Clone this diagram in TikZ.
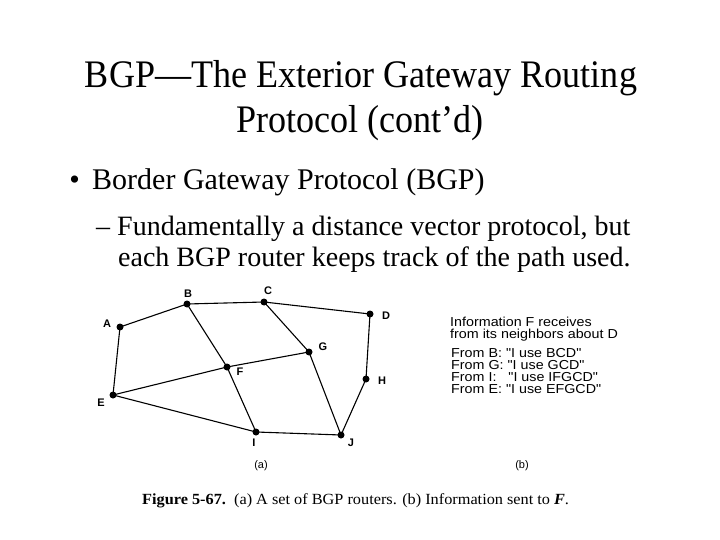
\documentclass[tikz,border=0pt]{standalone}
\usepackage{fontspec}
\setmainfont{Liberation Serif}
\newfontfamily\arialfont{Liberation Sans}
\begin{document}
\begin{tikzpicture}[x=1pt,y=-1pt,
  router/.style={circle,fill=black,inner sep=0pt,minimum size=7pt},
  rlabel/.style={font=\arialfont\bfseries\fontsize{11}{13}\selectfont,inner sep=0pt},
  link/.style={line width=1.1pt},
  titletext/.style={font=\fontsize{39}{44}\selectfont,anchor=base,inner sep=0pt,xscale=0.925},
  infotext/.style={font=\arialfont\fontsize{13}{14}\selectfont,anchor=base west,inner sep=0pt,xscale=1.1}]
\useasboundingbox[fill=white] (0,0) rectangle (720,540);
% title
\node[titletext] (t1) at (361,88) {BGP---The Exterior Gateway Routing};
\node[titletext] (t2) at (360,133) {Protocol (cont'd)};
% bullets
\node[font=\fontsize{30}{36}\selectfont,anchor=base west,inner sep=0pt] (b1) at (92,190) {Border Gateway Protocol (BGP)};
\node[font=\fontsize{30}{36}\selectfont,anchor=base east,inner sep=0pt] (bul) at (80,190) {\textbullet};
\node[font=\fontsize{28}{30}\selectfont,anchor=base west,inner sep=0pt] (b2) at (96,236) {-- Fundamentally a distance vector protocol, but};
\node[font=\fontsize{28}{30}\selectfont,anchor=base west,inner sep=0pt] (b3) at (118,266) {each BGP router keeps track of the path used.};
% routers
\node[router] (A) at (120,327) {};
\node[router] (B) at (187,304) {};
\node[router] (C) at (264,302) {};
\node[router] (D) at (370,314) {};
\node[router] (G) at (309,352) {};
\node[router] (F) at (227,367) {};
\node[router] (H) at (366,379) {};
\node[router] (E) at (113,395) {};
\node[router] (I) at (256,432) {};
\node[router] (J) at (341,435) {};
% labels
\node[rlabel] (lA) at (107,324) {A};
\node[rlabel] (lB) at (188,294) {B};
\node[rlabel] (lC) at (268,291) {C};
\node[rlabel] (lD) at (386,316) {D};
\node[rlabel] (lG) at (323,347) {G};
\node[rlabel] (lF) at (240,372) {F};
\node[rlabel] (lH) at (382,381) {H};
\node[rlabel] (lE) at (101,403) {E};
\node[rlabel] (lI) at (254,443) {I};
\node[rlabel] (lJ) at (351,443) {J};
% links
\draw[link] (A.center) -- (B.center) -- (C.center) -- (D.center) -- (H.center) -- (J.center) -- (I.center) -- (E.center) -- (A.center);
\draw[link] (B.center) -- (F.center) -- (I.center);
\draw[link] (C.center) -- (G.center) -- (J.center);
\draw[link] (E.center) -- (F.center) -- (G.center);
% subcaptions
\node[font=\arialfont\fontsize{11}{13}\selectfont,inner sep=0pt] (sa) at (261,466) {(a)};
\node[font=\arialfont\fontsize{11}{13}\selectfont,inner sep=0pt] (sb) at (522,466) {(b)};
% info
\node[infotext] (i1) at (450,326) {Information F receives};
\node[infotext] (i2) at (450,338) {from its neighbors about D};
\node[infotext] (i3) at (451,357) {From B: "I use BCD"};
\node[infotext] (i4) at (451,369) {From G: "I use GCD"};
\node[infotext] (i5) at (451,381) {From I:\ \ \ "I use IFGCD"};
\node[infotext] (i6) at (451,393) {From E: "I use EFGCD"};
% caption
\node[font=\fontsize{15.5}{17}\selectfont,anchor=base west,inner sep=0pt,xscale=1.05] (cap) at (142,504) {\textbf{Figure 5-67.}\ \ (a) A set of BGP routers. (b) Information sent to \textbf{\textit{F}}.};
\end{tikzpicture}
\end{document}
